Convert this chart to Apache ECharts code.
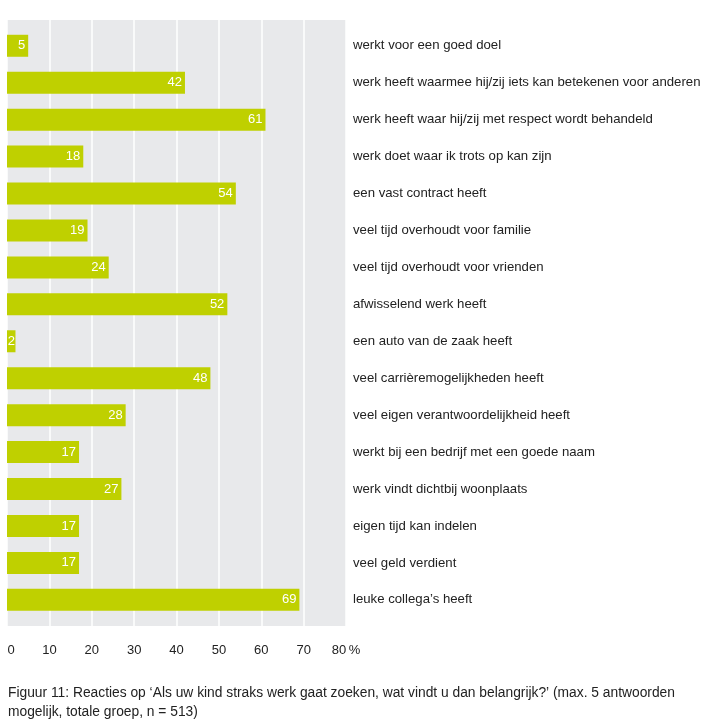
<!DOCTYPE html>
<html>
<head>
<meta charset="utf-8">
<script src="https://cdn.jsdelivr.net/npm/echarts@6/dist/echarts.min.js"></script>
<style>
html,body{margin:0;padding:0;background:#fff;}
#c{width:719px;height:727px;}
</style>
</head>
<body>
<div id="c"></div>
<script>
const categories = [
  "werkt voor een goed doel",
  "werk heeft waarmee hij/zij iets kan betekenen voor anderen",
  "werk heeft waar hij/zij met respect wordt behandeld",
  "werk doet waar ik trots op kan zijn",
  "een vast contract heeft",
  "veel tijd overhoudt voor familie",
  "veel tijd overhoudt voor vrienden",
  "afwisselend werk heeft",
  "een auto van de zaak heeft",
  "veel carrièremogelijkheden heeft",
  "veel eigen verantwoordelijkheid heeft",
  "werkt bij een bedrijf met een goede naam",
  "werk vindt dichtbij woonplaats",
  "eigen tijd kan indelen",
  "veel geld verdient",
  "leuke collega’s heeft"
];
const values = [5, 42, 61, 18, 54, 19, 24, 52, 2, 48, 28, 17, 27, 17, 17, 69];
const xTicks = [0, 10, 20, 30, 40, 50, 60, 70, 80];
const caption = "Figuur 11: Reacties op ‘Als uw kind straks werk gaat zoeken, wat vindt u dan belangrijk?’ (max. 5 antwoorden\nmogelijk, totale groep, n = 513)";

const FONT = "Liberation Sans, Arial, sans-serif";
const barData = values.map(function (v) {
  return v < 4 ? {value: v, label: {distance: 0.5}} : v;
});
const chart = echarts.init(document.getElementById('c'), null, {renderer: 'canvas'});
chart.setOption({
  animation: false,
  grid: [
    {left: 7, top: 20, width: 339, height: 606, show: true, backgroundColor: '#e8e9eb', borderWidth: 0, containLabel: false},
    {left: 7, top: 27.3, width: 339, height: 591, containLabel: false}
  ],
  xAxis: [
    {
      gridIndex: 0, type: 'value', min: 0, max: 80, interval: 10,
      axisLine: {show: false}, axisTick: {show: false},
      splitLine: {show: true, lineStyle: {color: '#ffffff', width: 1.5}},
      axisLabel: {
        margin: 18, color: '#222', fontSize: 13, fontFamily: FONT,
        formatter: function (v) {
          if (v === 0) return '{z|0}';
          if (v === 80) return '80\u2009%';
          return String(v);
        },
        rich: {z: {padding: [0, 0, 0, 8], fontSize: 13, fontFamily: FONT, color: '#222'}}
      }
    },
    {
      gridIndex: 1, type: 'value', min: 0, max: 80, show: false,
      splitLine: {show: false}
    }
  ],
  yAxis: [
    {gridIndex: 0, type: 'category', data: categories, show: false, inverse: true},
    {
      gridIndex: 1, type: 'category', data: categories, inverse: true, position: 'right',
      axisLine: {show: false}, axisTick: {show: false}, splitLine: {show: false},
      axisLabel: {margin: 7, align: 'left', color: '#222', fontSize: 13.2, fontFamily: FONT}
    }
  ],
  series: [{
    type: 'bar', xAxisIndex: 1, yAxisIndex: 1, data: barData,
    barWidth: 22,
    itemStyle: {color: '#bfd000'},
    label: {show: true, position: 'insideRight', distance: 3, color: '#fff', fontSize: 13, fontFamily: FONT}
  }],
  graphic: [{
    type: 'text', left: 8, top: 684,
    style: {text: caption, fill: '#222', font: '13.8px ' + FONT, lineHeight: 19}
  }]
});
</script>
</body>
</html>
